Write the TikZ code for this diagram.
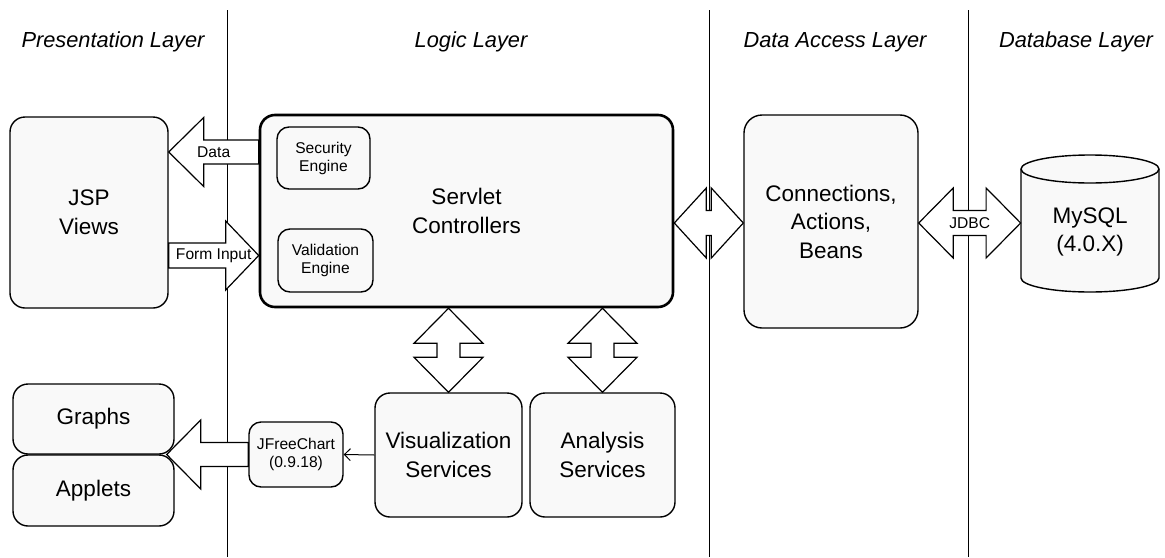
\documentclass[tikz,border=0pt]{standalone}
\usepackage{fontspec}
\setmainfont{Liberation Sans}
\usepackage{tikz}
\usetikzlibrary{calc,arrows.meta}

\definecolor{boxfill}{gray}{0.975}

\tikzset{
    layer/.style={font=\itshape\fontsize{10.9}{13}\selectfont, inner sep=0pt},
    bigbox/.style={draw, line width=0.7pt, rounded corners=7.5pt, fill=boxfill,
        align=center, inner sep=0pt, font=\fontsize{11.25}{14.25}\selectfont},
    smallbox/.style={bigbox, rounded corners=6pt, font=\fontsize{7.8}{9}\selectfont},
    blk/.style={draw, fill=white, line width=0.6pt, line join=miter},
    tag/.style={font=\fontsize{7.8}{9}\selectfont, inner sep=0pt},
    sep/.style={line width=0.5pt},
    thinarrow/.style={line width=0.5pt, -{Straight Barb[length=3pt,width=6pt]}}
}

% 水平单向块箭头: #1 尖端, #2 尾端, #3 箭头长, #4 箭头半宽, #5 杆半宽
\newcommand{\blkarrow}[5]{%
    \draw[blk] (#1) -- ($(#1)+(#3,-#4)$) -- ($(#1)+(#3,-#5)$) -- ($(#2)+(0,-#5)$)
        -- ($(#2)+(0,#5)$) -- ($(#1)+(#3,#5)$) -- ($(#1)+(#3,#4)$) -- cycle;}
% 水平双向块箭头: #1 左尖, #2 右尖
\newcommand{\blkdarrow}[5]{%
    \draw[blk] (#1) -- ($(#1)+(#3,-#4)$) -- ($(#1)+(#3,-#5)$) -- ($(#2)+(-#3,-#5)$)
        -- ($(#2)+(-#3,-#4)$) -- (#2) -- ($(#2)+(-#3,#4)$) -- ($(#2)+(-#3,#5)$)
        -- ($(#1)+(#3,#5)$) -- ($(#1)+(#3,#4)$) -- cycle;}
% 竖直双向块箭头: #1 上尖, #2 下尖
\newcommand{\blkvdarrow}[5]{%
    \draw[blk] (#1) -- ($(#1)+(#4,#3)$) -- ($(#1)+(#5,#3)$) -- ($(#2)+(#5,-#3)$)
        -- ($(#2)+(#4,-#3)$) -- (#2) -- ($(#2)+(-#4,-#3)$) -- ($(#2)+(-#5,-#3)$)
        -- ($(#1)+(-#5,#3)$) -- ($(#1)+(-#4,#3)$) -- cycle;}

\begin{document}
\begin{tikzpicture}[x=0.5pt, y=-0.5pt]
    \useasboundingbox (0,0) rectangle (1165,557);

    % 分层标题
    \node[layer] (hpres) at (113,42) {Presentation Layer};
    \node[layer] (hlogic) at (471,42) {Logic Layer};
    \node[layer] (hdal) at (835,42) {Data Access Layer};
    \node[layer] (hdb) at (1076,42) {Database Layer};

    % 分层竖线
    \draw[sep] (227,10) -- (227,557);
    \draw[sep] (709,10) -- (709,557);
    \draw[sep] (968,10) -- (968,557);

    % 各个模块
    \node[bigbox, minimum width=79pt, minimum height=95.5pt] (jsp) at (89,212.5) {JSP\\Views};
    \node[bigbox, line width=1.3pt, minimum width=206.5pt, minimum height=96pt] (serv) at (466.5,211) {Servlet\\Controllers};
    \node[smallbox, minimum width=46.5pt, minimum height=31pt] (sec) at (323.5,158) {Security\\Engine};
    \node[smallbox, minimum width=47.5pt, minimum height=31.5pt] (val) at (325.5,260.5) {Validation\\Engine};
    \node[bigbox, rounded corners=9pt, minimum width=87pt, minimum height=106.5pt] (da) at (831,221.5) {Connections,\\Actions,\\Beans};
    \node[bigbox, minimum width=80.5pt, minimum height=35pt] (graphs) at (93.5,419) {Graphs};
    \node[bigbox, minimum width=80.5pt, minimum height=35.5pt] (applets) at (93.5,490.5) {Applets};
    \node[bigbox, minimum width=73.5pt, minimum height=62pt] (vis) at (448.5,455) {Visualization\\Services};
    \node[bigbox, minimum width=72.5pt, minimum height=62pt] (ana) at (602.5,455) {Analysis\\Services};
    \node[smallbox, minimum width=47pt, minimum height=32.5pt] (jfc) at (296,454.5) {JFreeChart\\(0.9.18)};

    % 数据库圆柱
    \coordinate (dbc) at (1090,223.5);
    \draw[line width=0.7pt, fill=boxfill] ($(dbc)+(-69,-54.5)$) -- ($(dbc)+(-69,54.5)$)
        arc[start angle=180, end angle=360, x radius=34.5pt, y radius=7pt]
        -- ($(dbc)+(69,-54.5)$)
        arc[start angle=0, end angle=180, x radius=34.5pt, y radius=7pt] -- cycle;
    \draw[line width=0.7pt] ($(dbc)+(-69,-54.5)$)
        arc[start angle=180, end angle=360, x radius=34.5pt, y radius=7pt];
    \node[font=\fontsize{11.25}{14.25}\selectfont, align=center, inner sep=0pt,
        minimum width=69pt] (db) at ($(dbc)+(0,8.5)$) {MySQL\\(4.0.X)};

    % Data 箭头
    \coordinate (dataTip) at (jsp.east |- 0,152);
    \coordinate (dataEnd) at (serv.west |- 0,152);
    \blkarrow{dataTip}{dataEnd}{35}{34.5}{12}
    \node[tag] (data) at ($(dataTip)!0.5!(dataEnd)$) {Data};

    % Form Input 箭头
    \coordinate (formTip) at (serv.west |- 0,255.5);
    \coordinate (formEnd) at (jsp.east |- 0,255.5);
    \blkarrow{formTip}{formEnd}{-33}{34.5}{12.5}
    \node[tag] (form) at ($(formTip)!0.5!(formEnd)$) {Form Input};

    % 图表箭头
    \coordinate (chartTip) at ($(graphs.south east)!0.5!(applets.north east)+(-8,0)$);
    \coordinate (chartEnd) at (jfc.west |- chartTip);
    \blkarrow{chartTip}{chartEnd}{34}{34.5}{12}
    \draw[thinarrow] (vis.west) -- (jfc.east);

    % 上下双向箭头
    \coordinate (visTop) at (vis.north |- serv.south);
    \coordinate (anaTop) at (ana.north |- serv.south);
    \blkvdarrow{visTop}{vis.north}{35}{34.5}{11.5}
    \blkvdarrow{anaTop}{ana.north}{35}{34.5}{11.5}

    % Servlet 与数据访问层
    \coordinate (servR) at (serv.east |- 0,223);
    \coordinate (daL) at (da.west |- 0,223);
    \blkdarrow{servR}{daL}{32}{35}{12.5}

    % JDBC
    \coordinate (daR) at (da.east |- 0,223);
    \coordinate (dbL) at (db.west |- 0,223);
    \blkdarrow{daR}{dbL}{34.5}{35}{12.5}
    \node[tag] (jdbc) at ($(daR)!0.5!(dbL)$) {JDBC};
\end{tikzpicture}
\end{document}
